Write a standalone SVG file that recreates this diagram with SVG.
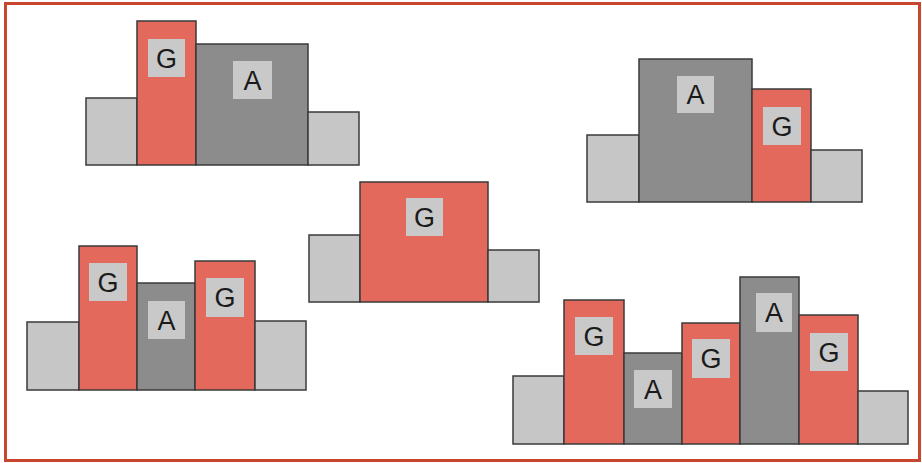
<svg xmlns="http://www.w3.org/2000/svg" width="922" height="463" viewBox="0 0 922 463">
<style>
.lg{fill:#c6c6c6;stroke:#3a3a3a;stroke-width:1.5}
.dg{fill:#8c8c8c;stroke:#3a3a3a;stroke-width:1.5}
.rd{fill:#e2695c;stroke:#3a3a3a;stroke-width:1.5}
.lb{fill:#c9c9c9}
.t{font-family:"Liberation Sans",Arial,sans-serif;font-size:27px;fill:#1a1a1a;text-anchor:middle;dominant-baseline:central}
</style>
<rect x="0" y="0" width="922" height="463" fill="#ffffff"/>
<rect x="5.5" y="3.5" width="914" height="457" fill="none" stroke="#c8462e" stroke-width="3"/>
<g id="group1">
<rect class="lg" x="86" y="98" width="51" height="67"/>
<rect class="rd" x="137" y="21" width="59" height="144"/>
<rect class="dg" x="196" y="44" width="112" height="121"/>
<rect class="lg" x="308" y="112" width="51" height="53"/>
<rect class="lb" x="148" y="39" width="37" height="38"/><text class="t" x="166.5" y="59">G</text>
<rect class="lb" x="233" y="61" width="39" height="38"/><text class="t" x="252.5" y="81">A</text>
</g>
<g id="group2">
<rect class="lg" x="587" y="135" width="52" height="67"/>
<rect class="dg" x="639" y="59" width="113" height="143"/>
<rect class="rd" x="752" y="89" width="59" height="113"/>
<rect class="lg" x="811" y="150" width="51" height="52"/>
<rect class="lb" x="677" y="76" width="37" height="37"/><text class="t" x="695.5" y="95">A</text>
<rect class="lb" x="763" y="107" width="38" height="38"/><text class="t" x="782" y="127">G</text>
</g>
<g id="group3">
<rect class="lg" x="27" y="322" width="52" height="68"/>
<rect class="rd" x="79" y="246" width="58" height="144"/>
<rect class="dg" x="137" y="283" width="58" height="107"/>
<rect class="rd" x="195" y="261" width="60" height="129"/>
<rect class="lg" x="255" y="321" width="51" height="69"/>
<rect class="lb" x="89" y="263" width="38" height="38"/><text class="t" x="108" y="283">G</text>
<rect class="lb" x="148" y="301" width="37" height="38"/><text class="t" x="166.5" y="321">A</text>
<rect class="lb" x="206" y="278" width="38" height="39"/><text class="t" x="225" y="298">G</text>
</g>
<g id="group4">
<rect class="lg" x="309" y="235" width="51" height="67"/>
<rect class="rd" x="360" y="182" width="128" height="120"/>
<rect class="lg" x="488" y="250" width="51" height="52"/>
<rect class="lb" x="406" y="198" width="37" height="38"/><text class="t" x="424.5" y="218">G</text>
</g>
<g id="group5">
<rect class="lg" x="513" y="376" width="51" height="68"/>
<rect class="rd" x="564" y="300" width="60" height="144"/>
<rect class="dg" x="624" y="353" width="58" height="91"/>
<rect class="rd" x="682" y="323" width="58" height="121"/>
<rect class="dg" x="740" y="277" width="59" height="167"/>
<rect class="rd" x="799" y="315" width="59" height="129"/>
<rect class="lg" x="858" y="391" width="50" height="53"/>
<rect class="lb" x="575" y="317" width="38" height="38"/><text class="t" x="594" y="337">G</text>
<rect class="lb" x="634" y="370" width="38" height="38"/><text class="t" x="653" y="390">A</text>
<rect class="lb" x="692" y="339" width="38" height="39"/><text class="t" x="711" y="359">G</text>
<rect class="lb" x="756" y="293" width="36" height="39"/><text class="t" x="774" y="313">A</text>
<rect class="lb" x="810" y="333" width="38" height="38"/><text class="t" x="829" y="353">G</text>
</g>
</svg>
